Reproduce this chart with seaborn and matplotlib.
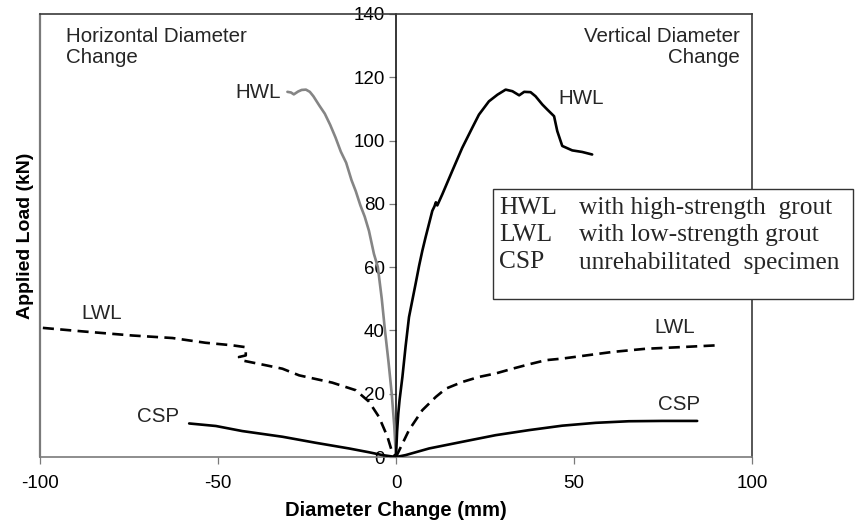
import matplotlib
matplotlib.use("Agg")
import matplotlib.pyplot as plt
import seaborn as sns
import pandas as pd
from matplotlib.patches import Rectangle

# Load vs. diameter change curves (x in mm, y in kN)
hwl_h_x = [-30.5, -29.5, -28.7, -27.5, -26.5, -25.3, -24.2, -23.2, -21.5, -20.0, -18.5,
           -17.0, -15.5, -14.0, -12.5, -11.3, -10.0, -8.8, -7.6, -6.2, -5.1, -4.0,
           -3.1, -2.1, -1.2, -0.5, 0.0]
hwl_h_y = [115.4, 115.2, 114.6, 115.5, 116.0, 116.1, 115.4, 114.0, 111.0, 108.5, 105.0,
           101.0, 96.5, 93.0, 87.5, 84.0, 79.5, 76.0, 71.5, 64.2, 60.0, 50.0,
           40.0, 30.0, 20.0, 10.0, 0.0]

hwl_v_x = [0.0, 0.3, 0.65, 1.0, 1.8, 2.7, 3.65, 5.5, 6.5, 7.4, 8.3, 10.2, 10.8, 11.2, 11.6,
           13.0, 15.8, 18.6, 21.4, 23.3, 26.1, 28.5, 30.8, 32.7, 34.6, 36.0, 37.8,
           39.2, 41.1, 42.5, 44.4, 45.3, 46.7, 49.5, 52.3, 55.1]
hwl_v_y = [0.0, 8.0, 13.8, 18.0, 25.3, 35.0, 44.2, 54.7, 60.5, 65.2, 69.4, 77.8, 79.2, 80.5, 79.5,
           83.0, 90.4, 97.7, 104.0, 108.2, 112.4, 114.5, 116.1, 115.6, 114.3, 115.4, 115.3,
           114.0, 111.4, 109.8, 107.7, 103.0, 98.3, 96.9, 96.4, 95.6]

lwl_h_x = [-99.2, -88.1, -74.1, -62.8, -53.5, -46.0, -42.2, -42.2, -44.1, -43.6, -36.6,
           -31.9, -27.2, -17.9, -11.3, -7.6, -4.8, -2.4, -1.0, 0.0]
lwl_h_y = [40.8, 39.7, 38.4, 37.6, 36.1, 35.3, 34.7, 32.1, 31.6, 30.6, 29.0,
           27.9, 25.8, 23.5, 21.1, 17.5, 12.7, 6.4, 1.2, 0.0]

lwl_v_x = [0.0, 3.65, 7.4, 11.2, 14.0, 18.6, 23.3, 28.0, 32.7, 37.4, 42.1, 46.7,
           51.4, 60.8, 70.1, 79.5, 90.3]
lwl_v_y = [0.0, 8.5, 14.8, 19.0, 21.6, 23.7, 25.3, 26.4, 27.9, 29.3, 30.6, 31.1,
           31.8, 33.2, 34.2, 34.7, 35.3]

csp_h_x = [-58.1, -50.6, -43.2, -31.9, -22.6, -13.2, -7.6, -3.8, 0.0]
csp_h_y = [10.6, 9.8, 8.2, 6.4, 4.5, 2.7, 1.5, 0.6, 0.0]

csp_v_x = [0.0, 2.7, 9.3, 18.6, 28.0, 37.4, 46.7, 56.1, 65.4, 74.8, 84.6]
csp_v_y = [0.0, 0.6, 2.7, 4.8, 6.9, 8.5, 9.9, 10.8, 11.3, 11.4, 11.4]

x_ticks = [-100, -50, 0, 50, 100]
y_ticks = [0, 20, 40, 60, 80, 100, 120, 140]

key_codes = ["HWL", "LWL", "CSP"]
key_texts = ["with high-strength  grout", "with low-strength grout", "unrehabilitated  specimen"]

sns.set_theme(style="white")
plt.rcParams["font.family"] = ["Liberation Sans", "DejaVu Sans"]

fig = plt.figure(figsize=(8.59, 5.22), dpi=100)
fig.patch.set_facecolor("white")
ax = fig.add_axes([40 / 859, 1 - 457 / 522, 712 / 859, 443 / 522])

lw = 1.9
dash = (0, (4.2, 2.4))
curves = [
    (hwl_h_x, hwl_h_y, "#858585", "-"),
    (hwl_v_x, hwl_v_y, "black", "-"),
    (lwl_h_x, lwl_h_y, "black", dash),
    (lwl_v_x, lwl_v_y, "black", dash),
    (csp_h_x, csp_h_y, "black", "-"),
    (csp_v_x, csp_v_y, "black", "-"),
]
for xs, ys, col, ls in curves:
    df = pd.DataFrame({"x": xs, "y": ys})
    sns.lineplot(data=df, x="x", y="y", sort=False, estimator=None, color=col,
                 linewidth=lw, linestyle=ls, ax=ax, zorder=3)

ax.set_xlim(-100, 100)
ax.set_ylim(0, 140)
ax.set_xticks(x_ticks)
ax.set_yticks(y_ticks)
ax.set_xticklabels([str(v) for v in x_ticks])
ax.set_yticklabels([str(v) for v in y_ticks])

# y axis runs through x = 0
ax.spines["left"].set_position(("data", 0))
ax.spines["left"].set_color("black")
ax.spines["left"].set_linewidth(1.1)
ax.spines["left"].set_zorder(2)
for side, c in [("top", "#3a3a3a"), ("right", "#3a3a3a"), ("bottom", "#7a7a7a")]:
    ax.spines[side].set_color(c)
    ax.spines[side].set_linewidth(1.2)
# outer left edge of the frame
ax.plot([0, 0], [0, 1], transform=ax.transAxes, color="#7a7a7a", lw=1.6, clip_on=False)

ax.tick_params(axis="y", direction="out", length=5, width=0.9, pad=3.0,
               labelsize=13.5, colors="#7a7a7a", labelcolor="black", left=True)
ax.tick_params(axis="x", direction="out", length=5, width=0.9, pad=8,
               labelsize=13.5, colors="#7a7a7a", labelcolor="black", bottom=True)

ax.set_xlabel("Diameter Change (mm)", fontsize=14.6, fontweight="bold", color="black")
ax.set_ylabel("Applied Load (kN)", fontsize=14.0, fontweight="bold", color="black")
ax.xaxis.set_label_coords(0.5, -0.12)
ax.xaxis.label.set_va("center")
ax.yaxis.set_label_coords(-0.021, 0.5)
ax.yaxis.label.set_va("center")

fs = 14.8
# corner captions, one line at a time
ax.text(-92.6, 131.3, "Horizontal Diameter", fontsize=fs, ha="left", va="baseline")
ax.text(-92.6, 124.5, "Change", fontsize=fs, ha="left", va="baseline")
ax.text(96.5, 131.3, "Vertical Diameter", fontsize=fs, ha="right", va="baseline")
ax.text(96.5, 124.5, "Change", fontsize=fs, ha="right", va="baseline")
# curve tags
ax.text(-32.4, 113.5, "HWL", fontsize=fs, ha="right", va="baseline")
ax.text(45.5, 111.6, "HWL", fontsize=fs, ha="left", va="baseline")
ax.text(-88.5, 43.7, "LWL", fontsize=fs, ha="left", va="baseline")
ax.text(72.7, 39.3, "LWL", fontsize=fs, ha="left", va="baseline")
ax.text(-72.8, 11.1, "CSP", fontsize=fs, ha="left", va="baseline")
ax.text(73.6, 14.8, "CSP", fontsize=fs, ha="left", va="baseline")

# key box, drawn over the frame
fig.add_artist(Rectangle((493 / 859, 1 - 299 / 522), 360 / 859, 110 / 522,
                         transform=fig.transFigure, facecolor="white",
                         edgecolor="#333333", lw=1.0, zorder=10))
rows_y = [208.5, 235.5, 262.5]
for code, txt, py in zip(key_codes, key_texts, rows_y):
    fig.text(499 / 859, 1 - py / 522, code, fontsize=18.3, family=["Liberation Serif"],
             ha="left", va="center", zorder=11)
    fig.text(579 / 859, 1 - py / 522, txt, fontsize=18.3, family=["Liberation Serif"],
             ha="left", va="center", zorder=11)

fig.savefig("out.png", dpi=100)
